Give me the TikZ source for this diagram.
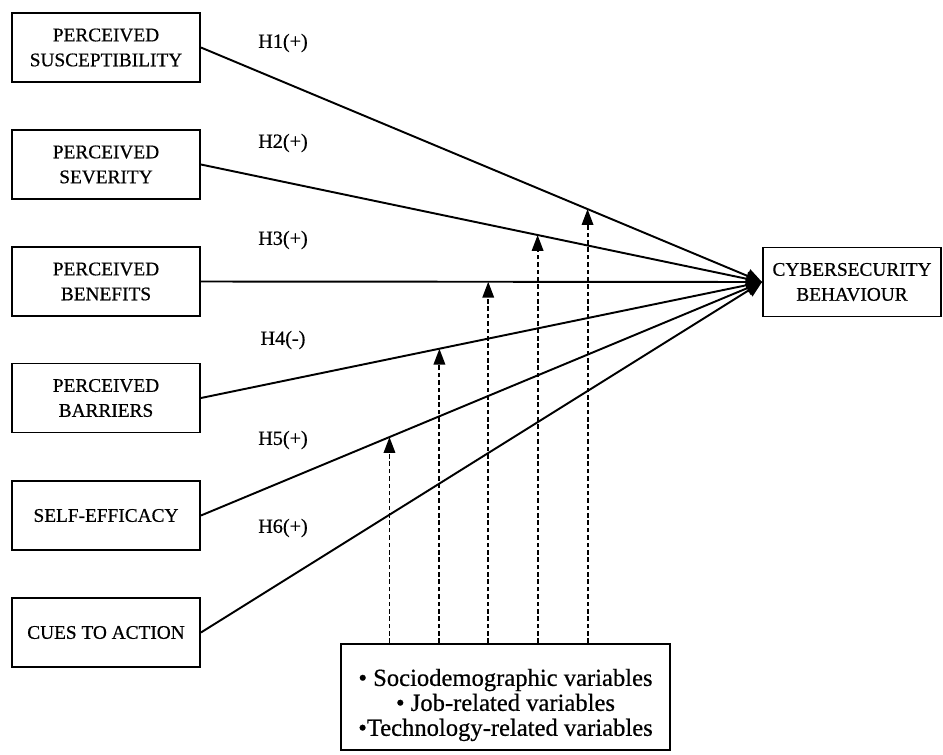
\documentclass[tikz,border=0pt]{standalone}
\usepackage{fontspec}
\setmainfont[FakeBold=0.6]{Liberation Serif}
\usepackage{tikz}
\usetikzlibrary{arrows.meta}

\begin{document}
\begin{tikzpicture}[x=0.02cm, y=-0.02cm,
    factor/.style={rectangle, draw, line width=1.1pt, minimum width=3.76cm, minimum height=1.38cm, align=center, font=\fontsize{11}{14.2}\selectfont},
    path/.style={line width=1.1pt, -{Triangle[length=9pt, width=8pt]}},
    moderate/.style={line width=1.1pt, dash pattern=on 2.6pt off 1.6pt, -{Triangle[length=9pt, width=6.5pt]}},
    hyp/.style={font=\fontsize{11.5}{14}\selectfont}]
                \useasboundingbox (0,0) rectangle (943,754);
                % HBM constructs
                \node[factor] (ps) at (106, 47.5) {PERCEIVED\\SUSCEPTIBILITY};
                \node[factor] (pv) at (106, 164.5) {PERCEIVED\\SEVERITY};
                \node[factor] (pb) at (106, 281.5) {PERCEIVED\\BENEFITS};
                \node[factor] (pr) at (106, 398) {PERCEIVED\\BARRIERS};
                \node[factor] (se) at (106, 515.5) {SELF-EFFICACY};
                \node[factor] (ca) at (106, 632.5) {CUES TO ACTION};
                \node[factor, minimum width=3.56cm] (cb) at (852, 282) {CYBERSECURITY\\BEHAVIOUR};
                \node[factor, minimum width=6.58cm, minimum height=2.12cm, font=\fontsize{14}{14.2}\selectfont] (vars) at (505.5, 697)
                    {\rule{0pt}{0.66cm}\textbullet\ Sociodemographic variables\\\textbullet\ Job-related variables\\\textbullet Technology-related variables};

                \node[hyp] (h1) at (283, 43) {H1(+)};
                \node[hyp] (h2) at (283, 143) {H2(+)};
                \node[hyp] (h3) at (283, 240) {H3(+)};
                \node[hyp] (h4) at (283, 340) {H4(-)};
                \node[hyp] (h5) at (283, 440) {H5(+)};
                \node[hyp] (h6) at (283, 528) {H6(+)};

                \draw[path] (ps.east) -- coordinate[pos=0.689] (m5) (cb.west);
                \draw[path] (pv.east) -- coordinate[pos=0.600] (m4) (cb.west);
                \draw[path] (pb.east) -- coordinate[pos=0.512] (m3) (cb.west);
                \draw[path] (pr.east) -- coordinate[pos=0.425] (m2) (cb.west);
                \draw[path] (se.east) -- coordinate[pos=0.336] (m1) (cb.west);
                \draw[path] (ca.east) -- (cb.west);

                \draw[moderate] (m1 |- vars.north) -- (m1);
                \draw[moderate] (m2 |- vars.north) -- (m2);
                \draw[moderate] (m3 |- vars.north) -- (m3);
                \draw[moderate] (m4 |- vars.north) -- (m4);
                \draw[moderate] (m5 |- vars.north) -- (m5);
            \end{tikzpicture}
\end{document}
